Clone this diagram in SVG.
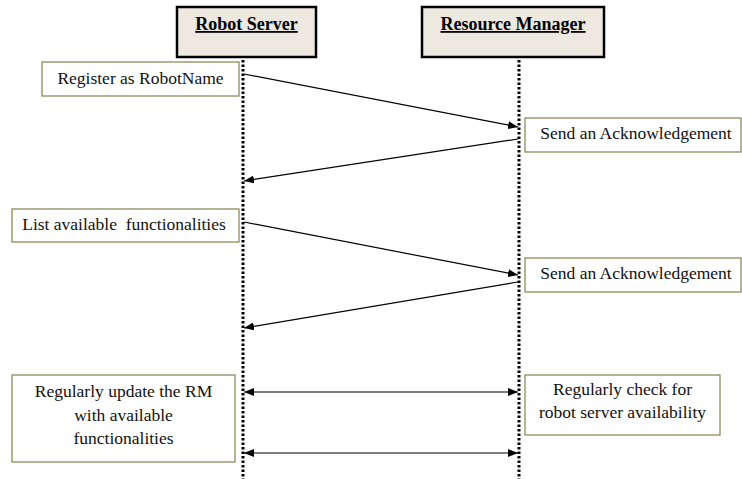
<svg xmlns="http://www.w3.org/2000/svg" width="742" height="479" viewBox="0 0 742 479">
<defs>
<style>
.hdr{fill:#ede9e0;stroke:#000;stroke-width:2.5}
.hdrt{font-family:"Liberation Serif","Times New Roman",serif;font-size:18px;font-weight:bold;text-decoration:underline;text-anchor:middle;fill:#000}
.note{fill:#fff;stroke:#8c8c5c;stroke-width:1.3}
.t{font-family:"Liberation Serif","Times New Roman",serif;font-size:17.5px;fill:#111;text-anchor:middle}
.life{stroke:#000;stroke-width:3;stroke-dasharray:2.5 2}
.msg{stroke:#000;stroke-width:1.2;fill:none}
</style>
<marker id="ah" viewBox="0 0 10 8" refX="10" refY="4" markerWidth="10" markerHeight="8" markerUnits="userSpaceOnUse" orient="auto-start-reverse">
<path d="M0,0 L10,4 L0,8 Z" fill="#000"/>
</marker>
</defs>
<rect width="742" height="479" fill="#fff"/>
<g id="robot-server">
<rect class="hdr" x="177" y="7" width="139" height="50"/>
<text class="hdrt" x="246.5" y="30">Robot Server</text>
</g>
<g id="resource-manager">
<rect class="hdr" x="422" y="7" width="182" height="50"/>
<text class="hdrt" x="513" y="30">Resource Manager</text>
</g>
<g id="lifelines">
<line class="life" x1="243" y1="60" x2="243" y2="479"/>
<line class="life" x1="519" y1="60" x2="519" y2="479"/>
</g>
<g id="register">
<rect class="note" x="42" y="62" width="197" height="34"/>
<text class="t" x="140.5" y="84">Register as RobotName</text>
</g>
<g id="ack1">
<rect class="note" x="525" y="118" width="216" height="34"/>
<text class="t" x="636" y="139">Send an Acknowledgement</text>
</g>
<g id="list">
<rect class="note" x="12" y="209" width="227" height="33"/>
<text class="t" x="124" y="230" style="white-space:pre">List available  functionalities</text>
</g>
<g id="ack2">
<rect class="note" x="525" y="258" width="216" height="34"/>
<text class="t" x="636" y="279">Send an Acknowledgement</text>
</g>
<g id="update">
<rect class="note" x="12" y="375" width="223" height="87"/>
<text class="t" x="123.5" y="397">Regularly update the RM</text>
<text class="t" x="123.5" y="421">with available</text>
<text class="t" x="123.5" y="444">functionalities</text>
</g>
<g id="check">
<rect class="note" x="525" y="375" width="195" height="60"/>
<text class="t" x="622.5" y="395">Regularly check for</text>
<text class="t" x="622.5" y="418">robot server availability</text>
</g>
<g id="connectors">
<line class="msg" x1="244" y1="74" x2="518" y2="127" marker-end="url(#ah)"/>
<line class="msg" x1="518" y1="139" x2="244" y2="181" marker-end="url(#ah)"/>
<line class="msg" x1="244" y1="222" x2="518" y2="275" marker-end="url(#ah)"/>
<line class="msg" x1="518" y1="282" x2="244" y2="328" marker-end="url(#ah)"/>
<line class="msg" x1="244" y1="392" x2="518" y2="392" marker-start="url(#ah)" marker-end="url(#ah)"/>
<line class="msg" x1="244" y1="453" x2="518" y2="453" marker-start="url(#ah)" marker-end="url(#ah)"/>
</g>
</svg>
